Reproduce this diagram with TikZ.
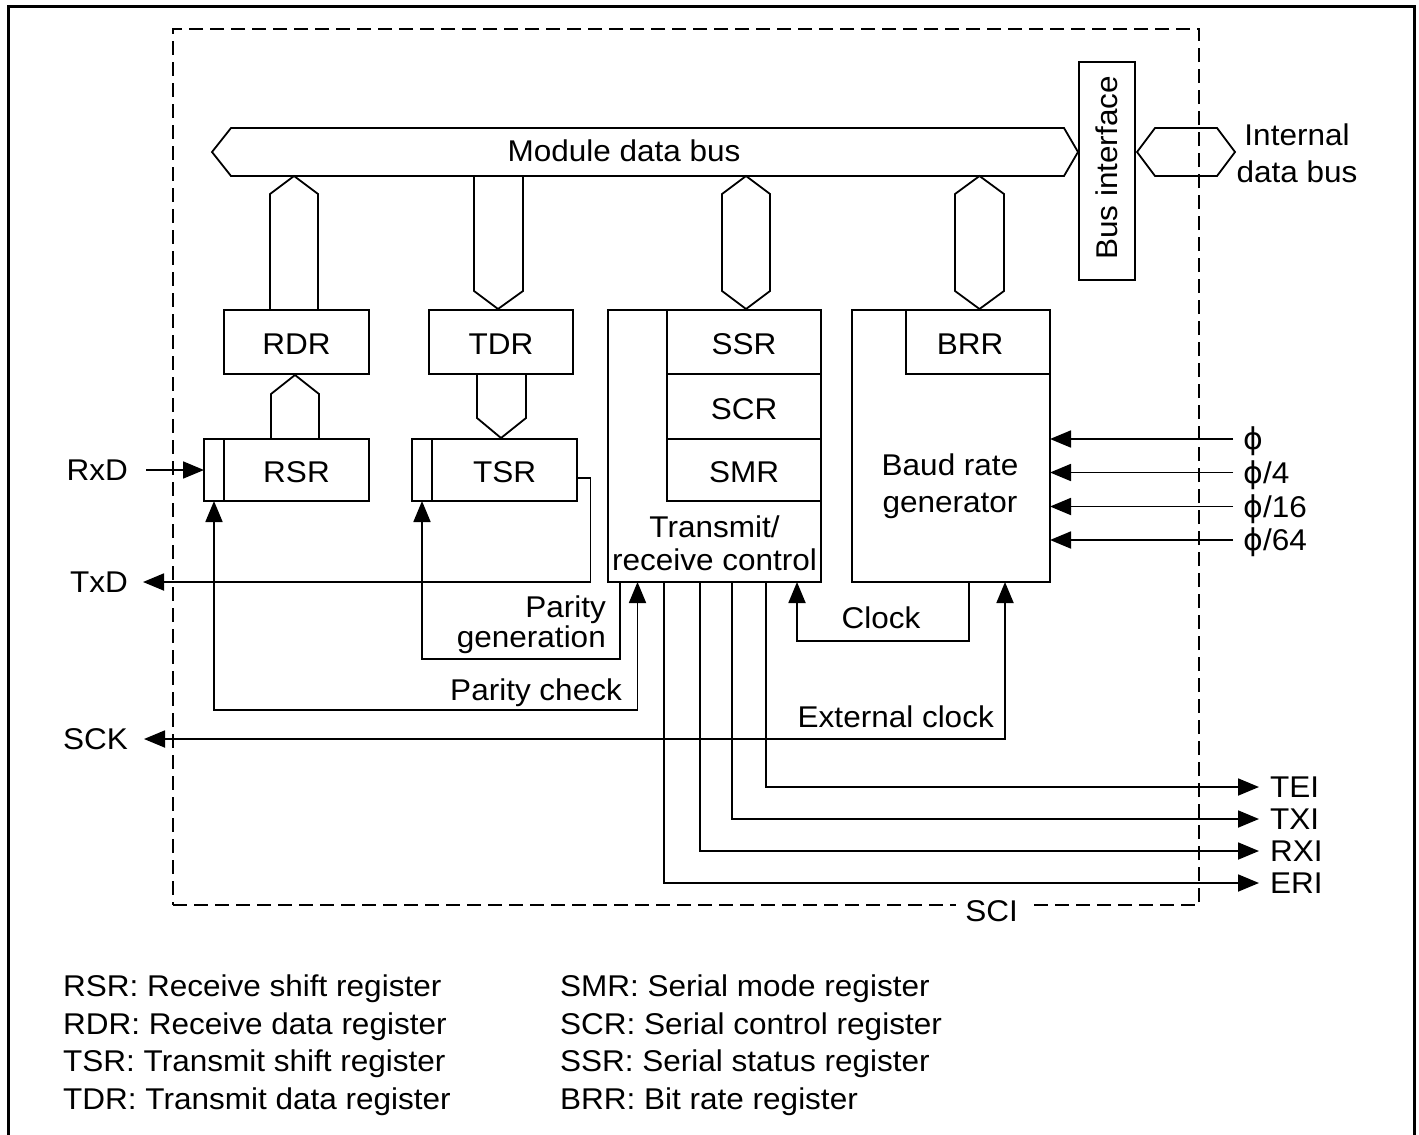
\documentclass[tikz,border=0pt]{standalone}
\usepackage{fontspec}
\setmainfont{Liberation Sans}[FakeStretch=1.05]
\newfontfamily\phifont{DejaVu Sans}
\usetikzlibrary{arrows.meta,calc}
\begin{document}
\begin{tikzpicture}[x=1pt,y=-1pt,
  every node/.style={font=\fontsize{30}{33}\selectfont},
  box/.style={draw, line width=1.8pt, inner sep=0pt, outer sep=0pt},
  regtext/.style={text height=25.5pt, text depth=0pt},
  lbl/.style={inner sep=0pt, text height=21.5pt, text depth=0pt},
  arr/.style={line width=1.8pt, -{Triangle[length=21pt,width=17pt]}},
  darr/.style={line width=1.8pt, {Triangle[length=21pt,width=17pt]}-{Triangle[length=21pt,width=17pt]}},
  bus/.style={line width=1.8pt, line join=miter},
  scibox/.style={draw, line width=1.8pt, dash pattern=on 14pt off 7pt, inner sep=0pt, outer sep=0pt},
]
\useasboundingbox (0,0) rectangle (1419,1135);
% outer frame (open at the bottom)
\draw[line width=3.5pt] (8.5,1135) -- (8.5,6.5) -- (1414.5,6.5) -- (1414.5,1135);

% SCI dashed boundary
\node[scibox, minimum width=1026pt, minimum height=876pt] (sci) at (686,467) {};
\node[lbl, fill=white, inner xsep=9pt, inner ysep=3pt] (scil) at (991.5,911) {SCI};

% module data bus
\draw[bus] (212,152) -- (231,128) -- (1064,128) -- (1078,152) -- (1064,176) -- (231,176) -- cycle;
\node[lbl] (mdbl) at (624,151) {Module data bus};

% bus interface and internal data bus
\node[box, minimum width=56pt, minimum height=218pt] (bif) at (1107,171) {};
\node[lbl, rotate=90] (bifl) at (1107,168) {Bus interface};
\draw[bus] (1137,152) -- (1155,128) -- (1217,128) -- (1235,152) -- (1217,176) -- (1155,176) -- cycle;
\node[align=center, inner sep=0pt, font=\fontsize{30}{36.7}\selectfont] (idb) at (1297,153) {Internal\\data bus};

% registers
\node[box, regtext, minimum width=145pt, minimum height=64pt] (RDR) at (296.5,342) {RDR};
\node[box, regtext, minimum width=144pt, minimum height=64pt] (TDR) at (501,342) {TDR};
\node[box, regtext, minimum width=145pt, minimum height=62pt] (RSR) at (296.5,470) {RSR};
\node[box, minimum width=20pt, minimum height=62pt] (RSRcell) at (214,470) {};
\node[box, regtext, minimum width=145pt, minimum height=62pt] (TSR) at (504.5,470) {TSR};
\node[box, minimum width=20pt, minimum height=62pt] (TSRcell) at (422,470) {};

% transmit/receive control
\node[box, minimum width=213pt, minimum height=272pt] (trc) at (714.5,446) {};
\node[box, regtext, minimum width=154pt, minimum height=64pt] (SSR) at (744,342) {SSR};
\node[box, regtext, minimum width=154pt, minimum height=65pt] (SCR) at (744,406.5) {SCR};
\node[box, regtext, minimum width=154pt, minimum height=62pt] (SMR) at (744,470) {SMR};
\node[align=center, inner sep=0pt, font=\fontsize{30}{33}\selectfont] (trcl) at (714.5,543) {Transmit/\\receive control};

% baud rate generator
\node[box, minimum width=198pt, minimum height=272pt] (baud) at (951,446) {};
\node[box, minimum width=144pt, minimum height=64pt] (BRR) at (978,342) {};
\node[lbl] (BRRl) at (970,344) {BRR};
\node[align=center, inner sep=0pt, font=\fontsize{30}{37}\selectfont] (baudl) at (950,486) {Baud rate\\generator};

% bus connectors
\draw[bus] (270,310) -- (270,194) -- (294,176) -- (318,194) -- (318,310);
\draw[bus] (474,176) -- (474,291) -- (498,309) -- (523,291) -- (523,176);
\draw[bus] (746,176) -- (770,194) -- (770,291) -- (746,309) -- (722,291) -- (722,194) -- cycle;
\draw[bus] (979.5,176) -- (1004,194) -- (1004,291) -- (979.5,309) -- (955,291) -- (955,194) -- cycle;
\draw[bus] (271,439) -- (271,394) -- (295,375) -- (319,394) -- (319,439);
\draw[bus] (477,374) -- (477,418) -- (501,438) -- (526,418) -- (526,374);

% left pins
\node[lbl, anchor=east] (RxD) at (128,470) {RxD};
\node[lbl, anchor=east] (TxD) at (128,582) {TxD};
\node[lbl, anchor=east] (SCK) at (128,739) {SCK};
\draw[arr] ([xshift=18pt]RxD.east) -- (RSRcell.west);
\draw[arr] ([yshift=-8pt]TSR.east) -- ++(13.5,0) |- ([xshift=15pt]TxD.east);

% parity generation / check
\coordinate (xpg) at (620,659);
\coordinate (xpc) at (637.5,710);
\draw[arr] (xpg |- trc.south) -- (xpg) -| (TSRcell.south);
\draw[darr] (RSRcell.south) |- (xpc) -- (xpc |- trc.south);
\node[align=right, anchor=east, inner sep=0pt, font=\fontsize{30}{30.5}\selectfont] (pgl) at (606,624.5) {Parity\\generation};
\node[lbl, anchor=east] (pcl) at (622,690) {Parity check};

% clock
\coordinate (xck) at (969,641);
\coordinate (xcki) at (797,641);
\draw[arr] (xck |- baud.south) -- (xck) -- (xcki) -- (xcki |- trc.south);
\node[lbl, anchor=west] (ckl) at (841.5,617.5) {Clock};

% external clock / SCK
\coordinate (xec) at (1005,739);
\draw[darr] ([xshift=16pt]SCK.east) -- (xec) -- (xec |- baud.south);
\node[lbl, anchor=east] (ecl) at (994,716.5) {External clock};

% phi inputs
\node[lbl, anchor=west] (p1) at (1243,439) {{\phifont ϕ}};
\node[lbl, anchor=west] (p2) at (1243,472.5) {{\phifont ϕ}/4};
\node[lbl, anchor=west] (p3) at (1243,506.5) {{\phifont ϕ}/16};
\node[lbl, anchor=west] (p4) at (1243,540) {{\phifont ϕ}/64};
\foreach \p in {p1,p2,p3,p4}
  \draw[arr] ([xshift=-10pt]\p.west) -- (\p.west -| baud.east);

% interrupt outputs
\node[lbl, anchor=west] (TEI) at (1270,787) {TEI};
\node[lbl, anchor=west] (TXI) at (1270,819) {TXI};
\node[lbl, anchor=west] (RXI) at (1270,851) {RXI};
\node[lbl, anchor=west] (ERI) at (1270,883) {ERI};
\coordinate (xtei) at (766,0);
\coordinate (xtxi) at (732,0);
\coordinate (xrxi) at (700,0);
\coordinate (xeri) at (664,0);
\draw[arr] (xtei |- trc.south) |- ([xshift=-11pt]TEI.west);
\draw[arr] (xtxi |- trc.south) |- ([xshift=-11pt]TXI.west);
\draw[arr] (xrxi |- trc.south) |- ([xshift=-11pt]RXI.west);
\draw[arr] (xeri |- trc.south) |- ([xshift=-11pt]ERI.west);

% legend
\node[lbl, anchor=west] (lg1) at (63,986) {RSR: Receive shift register};
\node[lbl, anchor=west] (lg2) at (63,1023.5) {RDR: Receive data register};
\node[lbl, anchor=west] (lg3) at (63,1061) {TSR: Transmit shift register};
\node[lbl, anchor=west] (lg4) at (63,1098.5) {TDR: Transmit data register};
\node[lbl, anchor=west] (lg5) at (560,986) {SMR: Serial mode register};
\node[lbl, anchor=west] (lg6) at (560,1023.5) {SCR: Serial control register};
\node[lbl, anchor=west] (lg7) at (560,1061) {SSR: Serial status register};
\node[lbl, anchor=west] (lg8) at (560,1098.5) {BRR: Bit rate register};
\end{tikzpicture}
\end{document}
